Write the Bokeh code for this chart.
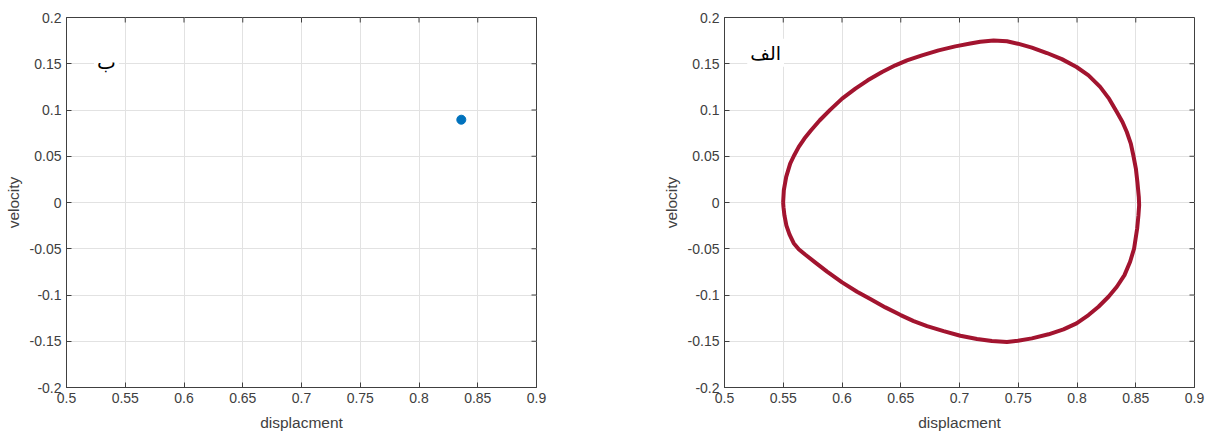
import math
from bokeh.plotting import figure
from bokeh.layouts import row
from bokeh.models import Range1d, FixedTicker, ColumnDataSource
from bokeh.core.properties import value
from bokeh.embed import file_html
from bokeh.resources import INLINE

# Axis ticks shared by both panels
x_ticks = [0.5, 0.55, 0.6, 0.65, 0.7, 0.75, 0.8, 0.85, 0.9]
x_tick_labels = ["0.5", "0.55", "0.6", "0.65", "0.7", "0.75", "0.8", "0.85", "0.9"]
y_ticks = [-0.2, -0.15, -0.1, -0.05, 0.0, 0.05, 0.1, 0.15, 0.2]
y_tick_labels = ["-0.2", "-0.15", "-0.1", "-0.05", "0", "0.05", "0.1", "0.15", "0.2"]

# Panel "ب": equilibrium point
point_disp = [0.836]
point_vel = [0.0895]

# Panel "الف": limit cycle in the phase plane (clockwise from the leftmost point)
loop_disp = [
    0.5499, 0.5505, 0.5525, 0.5559, 0.5589, 0.5632, 0.5680, 0.5737, 0.5811, 0.5901,
    0.6001, 0.6114, 0.6219, 0.6341, 0.6454, 0.6553, 0.6681, 0.6822, 0.6964, 0.7092,
    0.7177, 0.7290, 0.7404, 0.7497, 0.7616, 0.7744, 0.7871, 0.7996, 0.8098, 0.8197,
    0.8274, 0.8339, 0.8387, 0.8424, 0.8458, 0.8481, 0.8501, 0.8514, 0.8526, 0.8528,
    0.8529, 0.8523, 0.8512, 0.8486, 0.8452, 0.8404, 0.8339, 0.8268, 0.8183, 0.8098,
    0.7996, 0.7885, 0.7758, 0.7616, 0.7497, 0.7404, 0.7276, 0.7149, 0.7007, 0.6865,
    0.6724, 0.6610, 0.6499, 0.6369, 0.6241, 0.6128, 0.6001, 0.5873, 0.5774, 0.5689,
    0.5632, 0.5589, 0.5553, 0.5527, 0.5510, 0.5502, 0.5499,
]
loop_vel = [
    0.0000, 0.0133, 0.0277, 0.0421, 0.0500, 0.0601, 0.0691, 0.0781, 0.0889, 0.1004,
    0.1123, 0.1231, 0.1321, 0.1410, 0.1483, 0.1537, 0.1591, 0.1645, 0.1688, 0.1718,
    0.1738, 0.1752, 0.1743, 0.1717, 0.1674, 0.1616, 0.1550, 0.1465, 0.1375, 0.1250,
    0.1120, 0.0978, 0.0870, 0.0762, 0.0637, 0.0500, 0.0367, 0.0222, 0.0060, 0.0000,
    -0.0029, -0.0137, -0.0281, -0.0497, -0.0641, -0.0785, -0.0911, -0.1019, -0.1127, -0.1217,
    -0.1307, -0.1372, -0.1425, -0.1469, -0.1495, -0.1509, -0.1498, -0.1476, -0.1440, -0.1390,
    -0.1336, -0.1282, -0.1217, -0.1134, -0.1044, -0.0965, -0.0864, -0.0748, -0.0650, -0.0565,
    -0.0505, -0.0440, -0.0345, -0.0250, -0.0140, -0.0050, 0.0000,
]

FONT = "Liberation Sans"
AXIS_COLOR = "#404040"
TEXT_COLOR = "#404040"
TICK_LEN = 5


def style_axis(ax, ticks, labels, label):
    ax.ticker = FixedTicker(ticks=ticks)
    ax.major_label_overrides = {t: l for t, l in zip(ticks, labels)}
    ax.major_tick_in = TICK_LEN
    ax.major_tick_out = 0
    ax.minor_tick_in = 0
    ax.minor_tick_out = 0
    ax.axis_line_color = AXIS_COLOR
    ax.major_tick_line_color = AXIS_COLOR
    ax.major_label_text_color = TEXT_COLOR
    ax.major_label_text_font = FONT
    ax.major_label_text_font_size = "14px"
    ax.major_label_standoff = 5
    ax.axis_label = label
    ax.axis_label_text_font = FONT
    ax.axis_label_text_font_size = "15.5px"
    ax.axis_label_text_font_style = "normal"
    ax.axis_label_text_color = TEXT_COLOR


def make_panel(border_left, border_right):
    p = figure(frame_width=470, frame_height=370,
               x_range=Range1d(0.5, 0.9), y_range=Range1d(-0.2, 0.2),
               output_backend="svg", toolbar_location=None,
               min_border_left=border_left, min_border_right=border_right,
               min_border_top=17, min_border_bottom=47)
    p.outline_line_color = AXIS_COLOR
    p.outline_line_width = 1
    p.background_fill_color = "white"
    p.border_fill_color = "white"
    style_axis(p.xaxis[0], x_ticks, x_tick_labels, "displacment")
    style_axis(p.yaxis[0], y_ticks, y_tick_labels, "velocity")
    p.xaxis[0].axis_label_standoff = 8
    p.yaxis[0].axis_label_standoff = 5

    p.xgrid.ticker = FixedTicker(ticks=x_ticks)
    p.ygrid.ticker = FixedTicker(ticks=y_ticks)
    p.grid.grid_line_color = "#e2e2e2"
    p.grid.grid_line_width = 1

    # inward tick marks along the top and right edges of the box
    n_x, n_y = len(x_ticks), len(y_ticks)
    p.ray(x=x_ticks, y=[p.y_range.end] * n_x, length=TICK_LEN, length_units="screen",
          angle=-math.pi / 2, line_color=AXIS_COLOR, line_width=1)
    p.ray(x=[p.x_range.end] * n_y, y=y_ticks, length=TICK_LEN, length_units="screen",
          angle=math.pi, line_color=AXIS_COLOR, line_width=1)
    return p


# Left panel
p1 = make_panel(66, 64)
p1.scatter(point_disp, point_vel, size=9, color="#0072BD", line_color="#0072BD")
label1 = ColumnDataSource(dict(x=[0.534], y=[0.152], t=["ب"]))
p1.text(x="x", y="y", text="t", source=label1, text_align="center",
        text_baseline="alphabetic", text_font=value("DejaVu Sans"),
        text_font_size="20px", text_color="black",
        background_fill_color="white", padding=3)

# Right panel
p2 = make_panel(124, 13)
p2.line(loop_disp, loop_vel, line_width=4, color="#A2142F", line_join="round")
label2 = ColumnDataSource(dict(x=[0.535], y=[0.162], t=["الف"]))
p2.text(x="x", y="y", text="t", source=label2, text_align="center",
        text_baseline="alphabetic", text_font=value("DejaVu Sans"),
        text_font_size="19px", text_color="black",
        background_fill_color="white", padding=3)

layout = row(p1, p2, spacing=0)
open("out.html", "w").write(file_html(layout, INLINE))
